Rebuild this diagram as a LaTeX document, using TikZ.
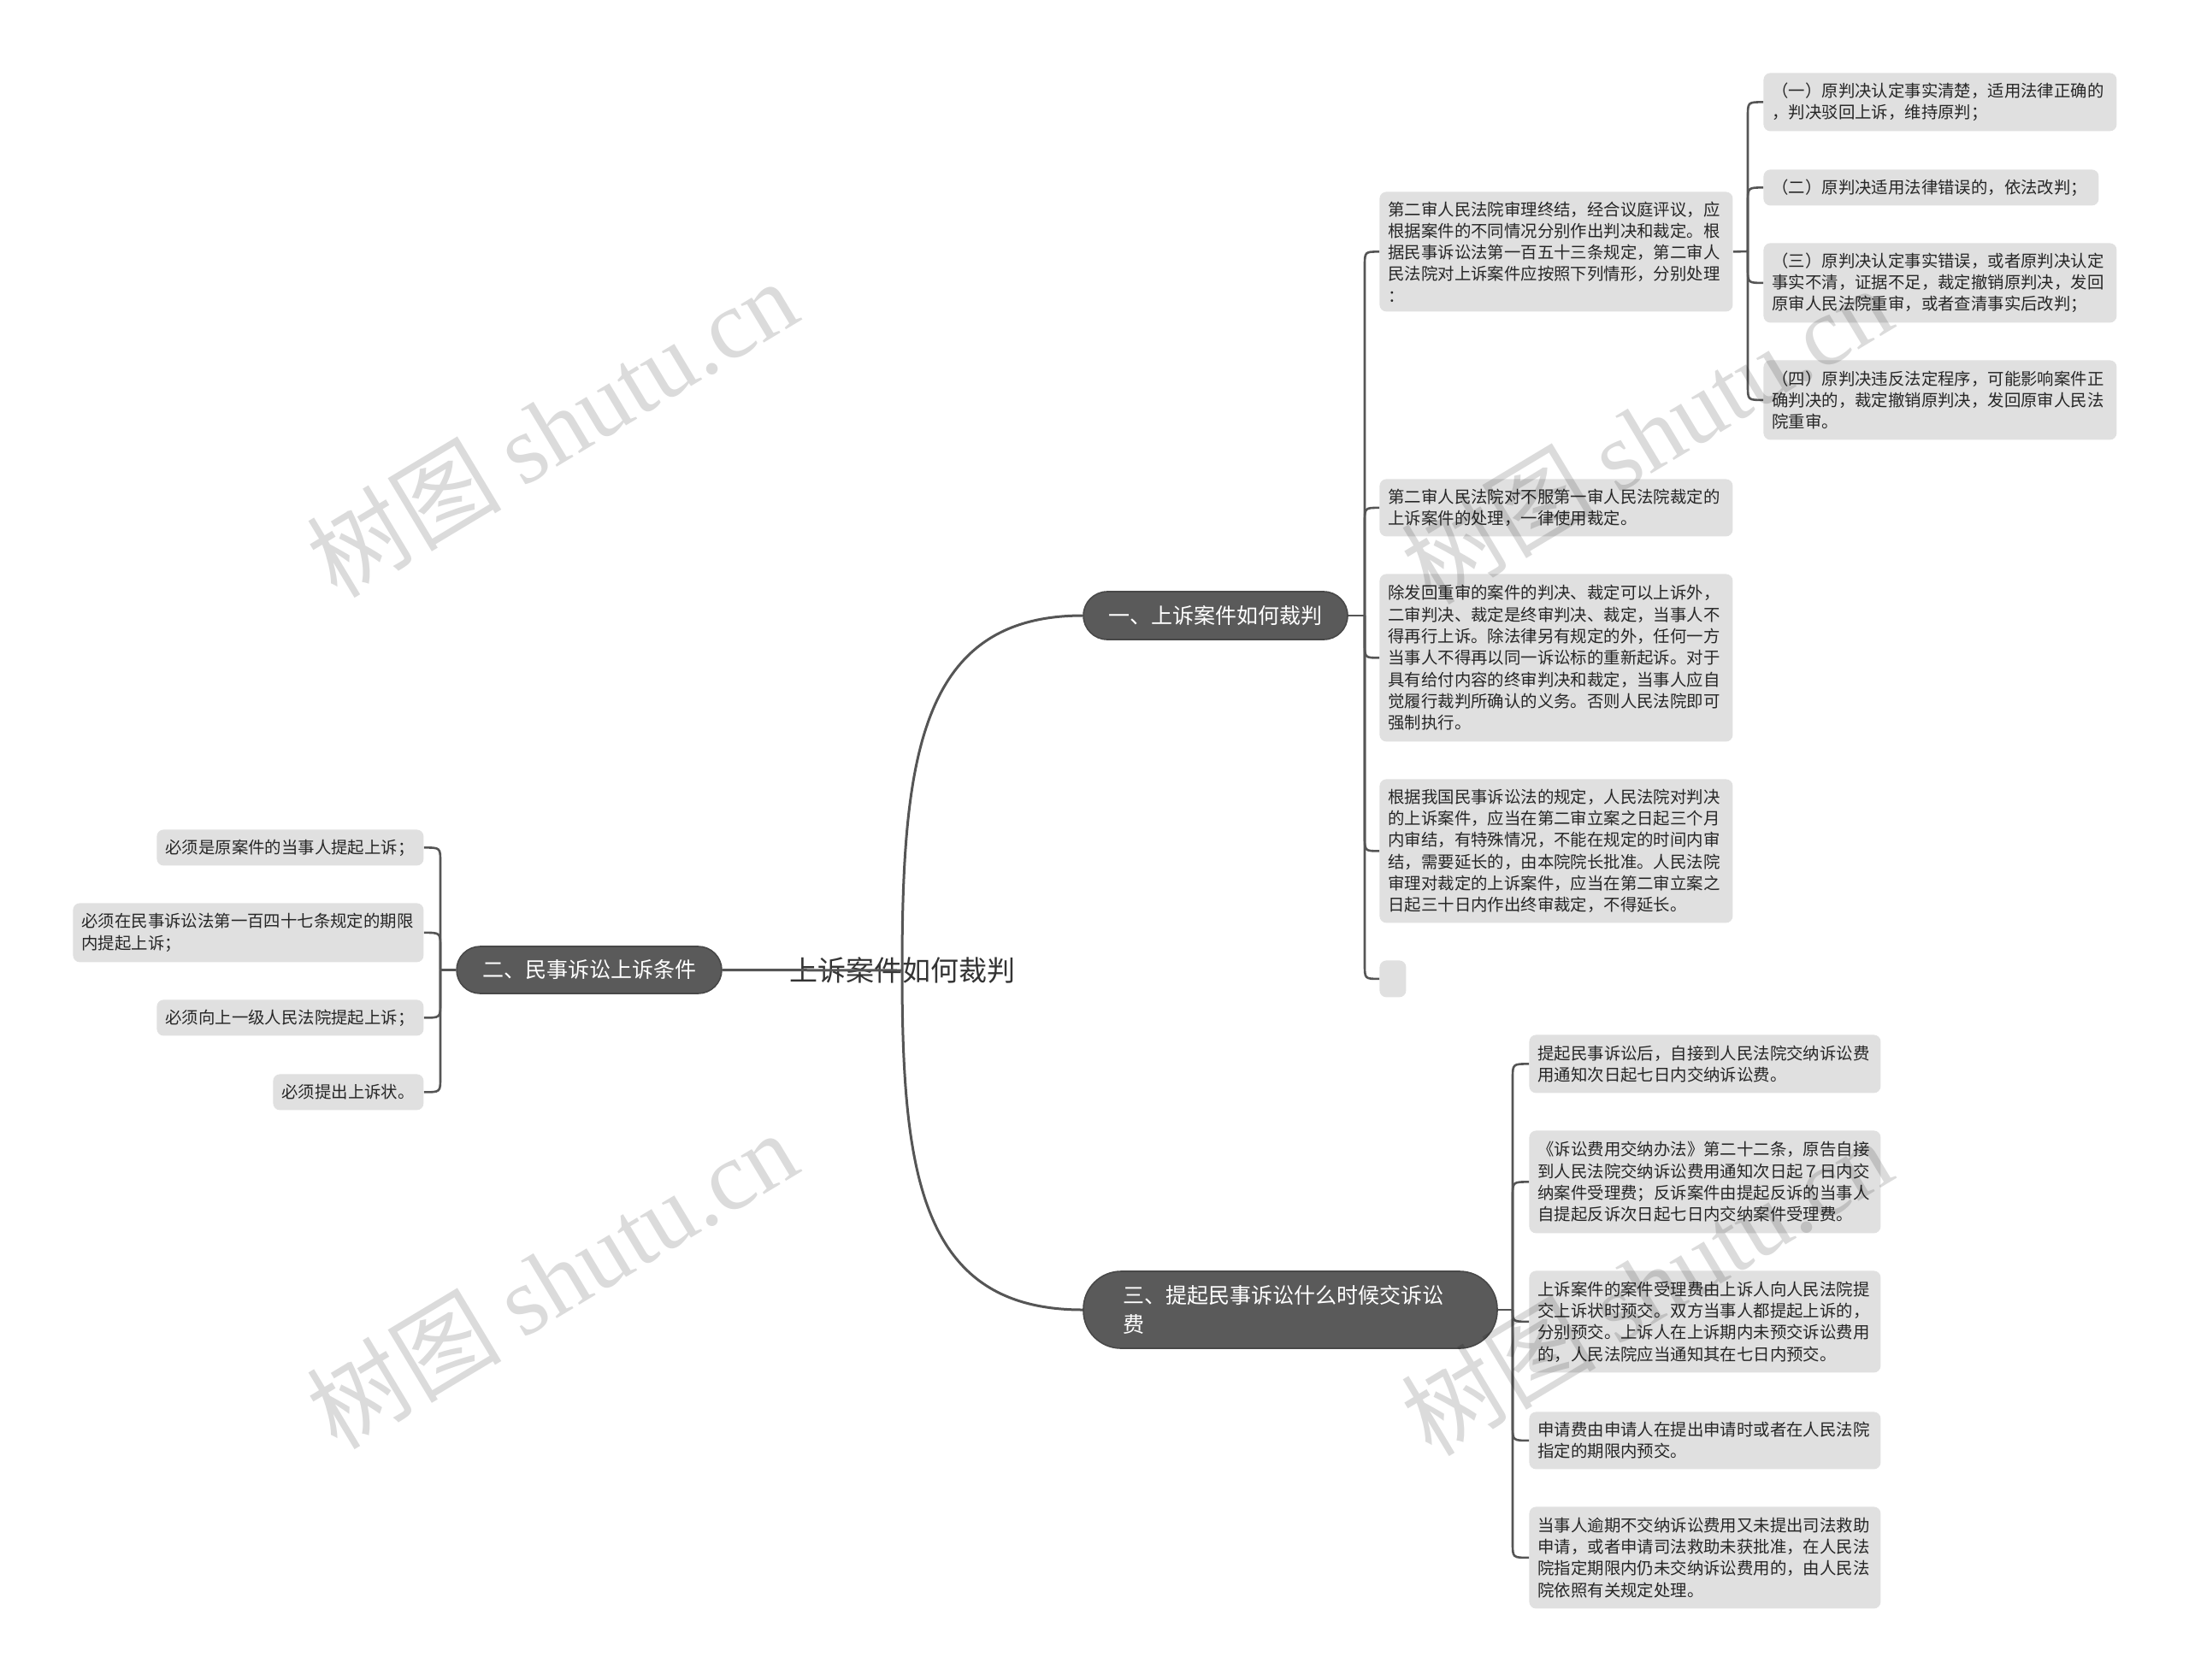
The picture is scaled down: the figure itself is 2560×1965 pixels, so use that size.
\documentclass[tikz,border=0pt]{standalone}
\usepackage{fontspec}
\setmainfont{Noto Sans CJK SC}
\newfontfamily\wmlatin{Liberation Serif}
\usetikzlibrary{calc}
\definecolor{boxgray}{HTML}{E0E0E0}
\definecolor{maingray}{HTML}{5A5A5A}
\definecolor{mainborder}{HTML}{484848}
\definecolor{linegray}{HTML}{555555}
\definecolor{txt}{HTML}{262626}
\definecolor{ctext}{HTML}{333333}
\tikzset{
  sub/.style={fill=boxgray, rounded corners=4pt, inner xsep=5pt, inner ysep=0pt, align=left,
    anchor=north west, text=txt, font=\fontsize{9.7pt}{12.65pt}\selectfont},
  mainnode/.style={fill=maingray, draw=mainborder, line width=0.8pt, text=white,
    font=\fontsize{12.5pt}{17pt}\selectfont, inner sep=0pt},
  sline/.style={draw=linegray, line width=1.3pt},
  mline/.style={draw=linegray, line width=1.5pt},
  wm/.style={rotate=31, text=black, text opacity=0.14, inner sep=0pt,
    font=\fontsize{57pt}{57pt}\selectfont},
}
\newcommand\elbowU[2]{\draw[sline] (#1) -- ($(#1 |- #2)+(0pt,-8.5pt)$) .. controls (#1 |- #2) .. (#2);}
\newcommand\elbowD[2]{\draw[sline] (#1) -- ($(#1 |- #2)+(0pt,8.5pt)$) .. controls (#1 |- #2) .. (#2);}
\begin{document}
\begin{tikzpicture}[x=0.5pt, y=-0.5pt]
\useasboundingbox (0,0) rectangle (2560,1965);
\fill[white] (0,0) rectangle (2560,1965);

% center
\node[font=\fontsize{16.5pt}{20pt}\selectfont, text=ctext, inner sep=0pt] (c0) at (1055,1135) {上诉案件如何裁判};

% main nodes
\node[mainnode, minimum width=154.5pt, minimum height=28pt, rounded corners=14pt] (n1) at (1421.5,720) {一、上诉案件如何裁判};
\node[mainnode, minimum width=155pt, minimum height=27.5pt, rounded corners=13.75pt] (n2) at (689,1134.5) {二、民事诉讼上诉条件};
\node[mainnode, minimum width=242pt, minimum height=45pt, rounded corners=22pt, text width=196pt, align=left, inner xsep=23pt] (n3) at (1509,1532) {三、提起民事诉讼什么时候交诉讼\\费};

% branch 1 children
\node[sub, minimum width=206.5pt, text width=196.5pt, minimum height=70pt] (c1) at (1613,224) {第二审人民法院审理终结，经合议庭评议，应\\根据案件的不同情况分别作出判决和裁定。根\\据民事诉讼法第一百五十三条规定，第二审人\\民法院对上诉案件应按照下列情形，分别处理\\：};
\node[sub, minimum width=206.5pt, text width=196.5pt, minimum height=33.5pt] (c2) at (1613,560) {第二审人民法院对不服第一审人民法院裁定的\\上诉案件的处理，一律使用裁定。};
\node[sub, minimum width=206.5pt, text width=196.5pt, minimum height=98pt] (c3) at (1613,671) {除发回重审的案件的判决、裁定可以上诉外，\\二审判决、裁定是终审判决、裁定，当事人不\\得再行上诉。除法律另有规定的外，任何一方\\当事人不得再以同一诉讼标的重新起诉。对于\\具有给付内容的终审判决和裁定，当事人应自\\觉履行裁判所确认的义务。否则人民法院即可\\强制执行。};
\node[sub, minimum width=206.5pt, text width=196.5pt, minimum height=84pt] (c4) at (1613,911) {根据我国民事诉讼法的规定，人民法院对判决\\的上诉案件，应当在第二审立案之日起三个月\\内审结，有特殊情况，不能在规定的时间内审\\结，需要延长的，由本院院长批准。人民法院\\审理对裁定的上诉案件，应当在第二审立案之\\日起三十日内作出终审裁定，不得延长。};
\node[sub, minimum width=15.5pt, minimum height=21.5pt, inner xsep=0pt] (c5) at (1613,1123) {};

% c1 children
\node[sub, minimum width=206.5pt, text width=196.5pt, minimum height=34pt] (g1) at (2062,85) {（一）原判决认定事实清楚，适用法律正确的\\，判决驳回上诉，维持原判；};
\node[sub, minimum width=196pt, text width=186pt, minimum height=21pt] (g2) at (2062,198) {（二）原判决适用法律错误的，依法改判；};
\node[sub, minimum width=206.5pt, text width=196.5pt, minimum height=46.5pt] (g3) at (2062,284) {（三）原判决认定事实错误，或者原判决认定\\事实不清，证据不足，裁定撤销原判决，发回\\原审人民法院重审，或者查清事实后改判；};
\node[sub, minimum width=206.5pt, text width=196.5pt, minimum height=46.5pt] (g4) at (2062,421) {（四）原判决违反法定程序，可能影响案件正\\确判决的，裁定撤销原判决，发回原审人民法\\院重审。};

% branch 2 children
\node[sub, minimum width=156pt, text width=146pt, minimum height=21pt] (d1) at (183,970) {必须是原案件的当事人提起上诉；};
\node[sub, minimum width=205pt, text width=195pt, minimum height=34.5pt] (d2) at (85,1056) {必须在民事诉讼法第一百四十七条规定的期限\\内提起上诉；};
\node[sub, minimum width=156pt, text width=146pt, minimum height=21pt] (d3) at (183,1169) {必须向上一级人民法院提起上诉；};
\node[sub, minimum width=88pt, text width=78pt, minimum height=21pt] (d4) at (319,1256) {必须提出上诉状。};

% branch 3 children
\node[sub, minimum width=205.5pt, text width=195.5pt, minimum height=34pt] (e1) at (1788,1210) {提起民事诉讼后，自接到人民法院交纳诉讼费\\用通知次日起七日内交纳诉讼费。};
\node[sub, minimum width=205.5pt, text width=195.5pt, minimum height=60pt] (e2) at (1788,1322) {《诉讼费用交纳办法》第二十二条，原告自接\\到人民法院交纳诉讼费用通知次日起７日内交\\纳案件受理费；反诉案件由提起反诉的当事人\\自提起反诉次日起七日内交纳案件受理费。};
\node[sub, minimum width=205.5pt, text width=195.5pt, minimum height=59.5pt] (e3) at (1788,1486) {上诉案件的案件受理费由上诉人向人民法院提\\交上诉状时预交。双方当事人都提起上诉的，\\分别预交。上诉人在上诉期内未预交诉讼费用\\的，人民法院应当通知其在七日内预交。};
\node[sub, minimum width=205.5pt, text width=195.5pt, minimum height=33.5pt] (e4) at (1788,1651) {申请费由申请人在提出申请时或者在人民法院\\指定的期限内预交。};
\node[sub, minimum width=205.5pt, text width=195.5pt, minimum height=59.5pt] (e5) at (1788,1762) {当事人逾期不交纳诉讼费用又未提出司法救助\\申请，或者申请司法救助未获批准，在人民法\\院指定期限内仍未交纳诉讼费用的，由人民法\\院依照有关规定处理。};

% junctions
\coordinate (j1) at (1596,720);
\coordinate (jg) at (2044,294);
\coordinate (jd) at (515,1134.5);
\coordinate (je) at (1769,1532);
\coordinate (jc) at (1055,1135);

% main connectors
\draw[mline] (n2.east) -- (jc);
\draw[mline] (jc) .. controls +(0,-252) and +(-189,0) .. (n1.west);
\draw[mline] (jc) .. controls +(0,240) and +(-189,0) .. (n3.west);

% branch 1
\draw[sline] (n1.east) -- (j1);
\elbowU{j1}{c1.west}
\elbowU{j1}{c2.west}
\elbowD{j1}{c3.west}
\elbowD{j1}{c4.west}
\elbowD{j1}{c5.west}
\draw[sline] (c1.east) -- (jg);
\elbowU{jg}{g1.west}
\elbowU{jg}{g2.west}
\elbowD{jg}{g3.west}
\elbowD{jg}{g4.west}

% branch 2
\draw[sline] (n2.west) -- (jd);
\elbowU{jd}{d1.east}
\elbowU{jd}{d2.east}
\elbowD{jd}{d3.east}
\elbowD{jd}{d4.east}

% branch 3
\draw[sline] (n3.east) -- (je);
\elbowU{je}{e1.west}
\elbowU{je}{e2.west}
\draw[sline] (je) .. controls (je |- e3.west) .. (e3.west);
\elbowD{je}{e4.west}
\elbowD{je}{e5.west}

% watermarks
\node[wm] (w1) at (645,500) {树图 {\wmlatin shutu.cn}};
\node[wm] (w2) at (1925,508) {树图 {\wmlatin shutu.cn}};
\node[wm] (w3) at (645,1496) {树图 {\wmlatin shutu.cn}};
\node[wm] (w4) at (1925,1504) {树图 {\wmlatin shutu.cn}};
\end{tikzpicture}
\end{document}
